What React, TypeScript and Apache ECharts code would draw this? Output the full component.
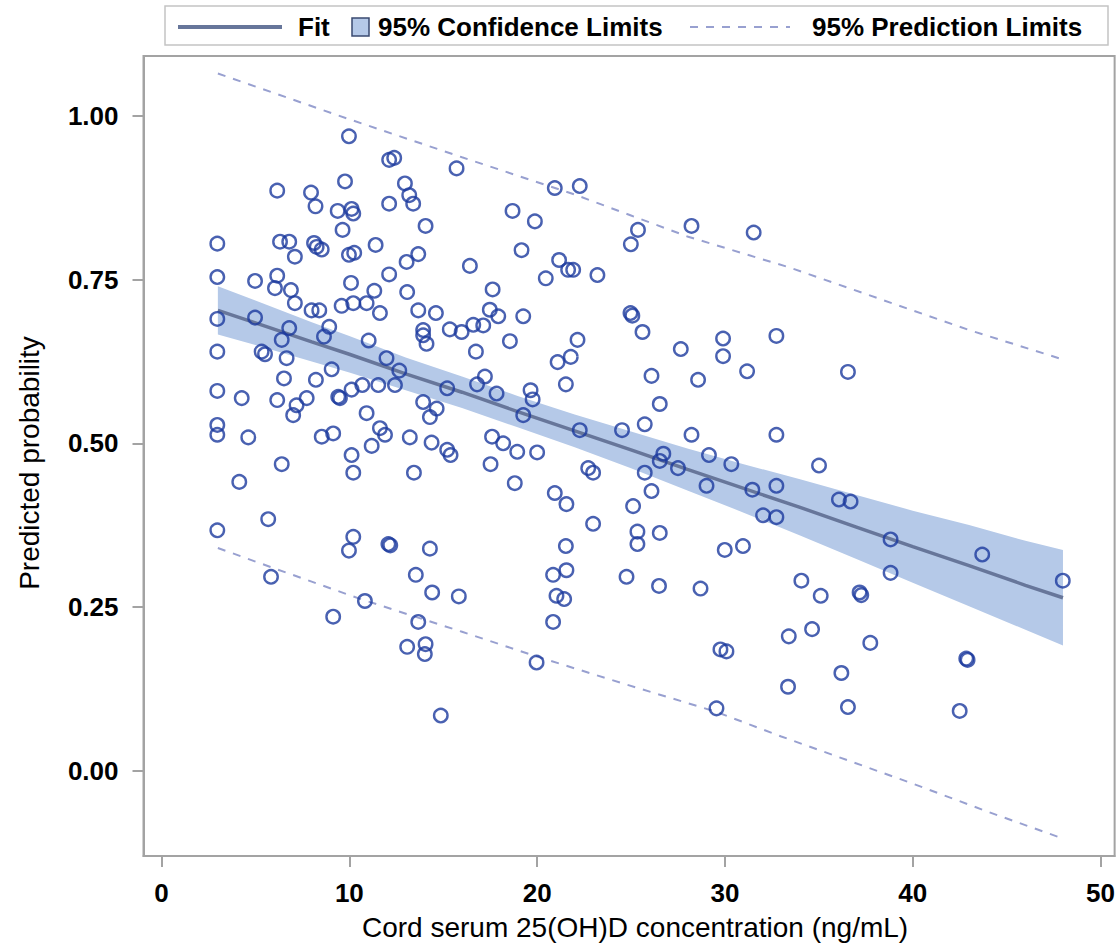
import React, { useEffect, useRef } from "react";
import * as echarts from "echarts";

const xTicks = [0, 10, 20, 30, 40, 50];
const yTicks = [0, 0.25, 0.5, 0.75, 1.0];
const xTitle = "Cord serum 25(OH)D concentration (ng/mL)";
const yTitle = "Predicted probability";
const legendNames = ["Fit", "95% Confidence Limits", "95% Prediction Limits"];

const points: [number, number][] = [
  [9.98,0.969],[12.12,0.933],[12.39,0.936],[15.71,0.920],[9.77,0.900],[6.16,0.886],[7.96,0.883],[8.20,0.862],[9.38,0.855],[10.12,0.858],[10.21,0.851],[12.12,0.866],[12.96,0.897],[13.19,0.879],[13.40,0.866],[14.06,0.832],[9.64,0.826],[2.97,0.805],[6.31,0.808],[6.80,0.808],[7.10,0.785],[8.12,0.806],[8.26,0.800],[8.53,0.796],[11.40,0.803],[9.98,0.788],[10.26,0.791],[13.67,0.789],[13.05,0.777],[16.42,0.771],[2.97,0.754],[4.98,0.748],[6.16,0.756],[6.04,0.737],[6.89,0.734],[10.09,0.745],[12.12,0.758],[11.33,0.733],[13.08,0.731],[7.10,0.714],[7.99,0.703],[8.40,0.703],[9.59,0.710],[10.21,0.714],[10.92,0.714],[11.63,0.699],[13.67,0.703],[14.61,0.699],[2.97,0.690],[4.98,0.692],[16.60,0.681],[6.80,0.676],[6.40,0.658],[8.93,0.678],[8.65,0.663],[11.03,0.657],[13.93,0.673],[13.93,0.665],[14.11,0.652],[15.35,0.674],[15.98,0.670],[16.74,0.640],[2.97,0.640],[5.33,0.640],[5.51,0.636],[6.66,0.630],[11.98,0.630],[12.66,0.611],[9.06,0.613],[15.21,0.584],[16.80,0.590],[6.52,0.599],[8.22,0.597],[2.97,0.580],[4.27,0.569],[6.16,0.566],[7.19,0.558],[7.73,0.569],[7.01,0.543],[9.41,0.571],[9.50,0.569],[10.12,0.582],[10.69,0.589],[11.54,0.589],[12.43,0.589],[13.93,0.563],[14.65,0.553],[14.29,0.540],[10.92,0.546],[2.97,0.528],[2.97,0.513],[4.62,0.509],[8.53,0.510],[9.14,0.515],[11.63,0.523],[11.90,0.513],[11.19,0.496],[13.22,0.509],[14.38,0.501],[15.21,0.490],[15.39,0.482],[10.12,0.482],[10.21,0.455],[13.44,0.455],[6.40,0.468],[4.14,0.441],[2.97,0.367],[5.68,0.384],[10.21,0.357],[9.98,0.336],[12.08,0.346],[12.18,0.344],[14.29,0.339],[5.83,0.296],[13.54,0.299],[14.41,0.272],[15.83,0.266],[10.83,0.259],[9.14,0.235],[13.67,0.227],[13.08,0.189],[14.06,0.193],[14.02,0.178],[14.87,0.084],
  [20.94,0.890],[22.27,0.893],[18.69,0.855],[19.88,0.839],[25.37,0.826],[24.99,0.804],[28.22,0.832],[31.53,0.822],[19.17,0.795],[21.17,0.780],[21.65,0.765],[21.92,0.765],[20.46,0.752],[23.21,0.757],[17.63,0.735],[17.48,0.704],[17.93,0.694],[17.13,0.680],[19.26,0.694],[18.55,0.656],[24.97,0.699],[25.07,0.695],[25.61,0.670],[22.15,0.658],[21.79,0.632],[21.09,0.624],[21.53,0.590],[27.65,0.644],[29.90,0.660],[29.90,0.633],[32.74,0.664],[26.09,0.603],[28.57,0.597],[31.18,0.610],[26.53,0.560],[25.73,0.529],[24.52,0.520],[28.22,0.513],[32.74,0.513],[17.22,0.602],[17.84,0.576],[19.65,0.581],[19.76,0.567],[19.26,0.543],[22.27,0.520],[17.60,0.510],[18.19,0.500],[18.94,0.487],[20.00,0.486],[26.72,0.484],[29.15,0.482],[17.52,0.468],[18.81,0.439],[20.94,0.424],[21.56,0.407],[22.72,0.462],[22.98,0.455],[25.73,0.455],[26.53,0.473],[27.50,0.462],[30.34,0.468],[26.09,0.427],[29.02,0.435],[31.46,0.429],[32.74,0.435],[32.03,0.390],[32.74,0.387],[25.11,0.404],[22.98,0.377],[25.34,0.365],[25.34,0.346],[26.53,0.363],[29.99,0.337],[30.96,0.343],[21.53,0.343],[20.85,0.299],[21.56,0.306],[21.03,0.267],[21.44,0.262],[20.85,0.227],[24.76,0.296],[26.49,0.282],[28.70,0.278],[19.97,0.165],[29.76,0.185],[30.08,0.182],[29.55,0.095],[33.40,0.205],[33.36,0.128],
  [36.55,0.609],[35.01,0.466],[36.07,0.414],[36.69,0.411],[38.82,0.353],[43.70,0.330],[47.99,0.290],[38.82,0.302],[34.07,0.290],[35.10,0.267],[37.17,0.272],[37.26,0.268],[34.64,0.216],[37.74,0.195],[42.85,0.171],[42.92,0.169],[36.20,0.149],[36.55,0.097],[42.50,0.091]
];

const fitX = [3, 5, 8, 10, 13, 16, 19, 22, 25, 28, 31, 34, 37, 40, 43, 46, 48];
const fitY = [0.703, 0.684, 0.655, 0.636, 0.606, 0.578, 0.548, 0.519, 0.490, 0.460, 0.431, 0.402, 0.372, 0.342, 0.313, 0.283, 0.264];
const clLower = [0.666, 0.650, 0.625, 0.608, 0.581, 0.554, 0.524, 0.494, 0.462, 0.428, 0.394, 0.359, 0.323, 0.287, 0.251, 0.215, 0.191];
const clUpper = [0.740, 0.718, 0.685, 0.664, 0.631, 0.602, 0.572, 0.544, 0.518, 0.492, 0.468, 0.445, 0.421, 0.397, 0.375, 0.351, 0.337];

const plUpperX = [3, 10, 16, 22, 25, 28, 33.5, 38.4, 43, 48];
const plUpperY = [1.065, 0.995, 0.937, 0.880, 0.848, 0.816, 0.768, 0.719, 0.673, 0.628];
const plLowerX = [3, 5.8, 10.5, 13.4, 16, 20, 24.8, 29.5, 33, 40, 44, 48];
const plLowerY = [0.340, 0.311, 0.263, 0.236, 0.212, 0.174, 0.131, 0.090, 0.052, -0.020, -0.063, -0.104];

const FONT = "'Liberation Sans', Arial, sans-serif";
const MARKER = "#1C3A9E";
const FIT = "#67769A";
const BAND = "#B5C9E8";
const DASH = "#98A0D0";
const FRAME = "#A3A3A3";

export default function App() {
  const ref = useRef<HTMLDivElement>(null);
  useEffect(() => {
    if (!ref.current) return;
    const chart = echarts.init(ref.current, null, { renderer: "svg" });
    const pair = (xs: number[], ys: number[]) => xs.map((x, i) => [x, ys[i]]);
    chart.setOption({
      animation: false,
      backgroundColor: "#ffffff",
      textStyle: { fontFamily: FONT },
      grid: {
        left: 143.5, top: 56, right: 3, bottom: 90,
        show: true, borderColor: FRAME, borderWidth: 2, backgroundColor: "transparent",
      },
      xAxis: {
        type: "value", min: -0.96, max: 50.75,
        name: xTitle, nameLocation: "middle", nameGap: 57,
        nameTextStyle: { fontSize: 28, color: "#000", fontFamily: FONT, padding: [0, 0, 0, 12] },
        axisLine: { show: true, onZero: false, lineStyle: { color: FRAME, width: 2 } },
        axisTick: { show: true, customValues: xTicks, length: 11, lineStyle: { color: FRAME, width: 2 } },
        axisLabel: { customValues: xTicks, fontSize: 26, fontWeight: "bold", color: "#000", margin: 24, fontFamily: FONT },
        splitLine: { show: false },
      },
      yAxis: {
        type: "value", min: -0.1306, max: 1.0917,
        name: yTitle, nameLocation: "middle", nameGap: 100, nameRotate: 90,
        nameTextStyle: { fontSize: 28, color: "#000", fontFamily: FONT, padding: [0, 14, 0, 0] },
        axisLine: { show: true, onZero: false, lineStyle: { color: FRAME, width: 2 } },
        axisTick: { show: true, customValues: yTicks, length: 11, lineStyle: { color: FRAME, width: 2 } },
        axisLabel: { customValues: yTicks, fontSize: 26, fontWeight: "bold", color: "#000", margin: 25, fontFamily: FONT,
          formatter: (v: number) => v.toFixed(2) },
        splitLine: { show: false },
      },
      graphic: [
        { type: "rect", shape: { x: 165, y: 6, width: 943, height: 39 }, style: { fill: "#fff", stroke: "#C4C4C4", lineWidth: 1.5 } },
        { type: "line", shape: { x1: 178, y1: 27, x2: 282, y2: 27 }, style: { stroke: FIT, lineWidth: 4 } },
        { type: "text", x: 298, y: 27, style: { text: legendNames[0], font: `bold 26px ${FONT}`, fill: "#000", verticalAlign: "middle" } },
        { type: "rect", shape: { x: 352, y: 18, width: 17, height: 18 }, style: { fill: BAND, stroke: "#3A4A70", lineWidth: 1.5 } },
        { type: "text", x: 378, y: 27, style: { text: legendNames[1], font: `bold 26px ${FONT}`, fill: "#000", verticalAlign: "middle" } },
        { type: "line", shape: { x1: 690, y1: 27, x2: 790, y2: 27 }, style: { stroke: DASH, lineWidth: 2, lineDash: [8, 8] } },
        { type: "text", x: 812, y: 27, style: { text: legendNames[2], font: `bold 26px ${FONT}`, fill: "#000", verticalAlign: "middle" } },
      ],
      series: [
        {
          type: "custom", silent: true, z: 1,
          data: [[fitX[0], clLower[0]]],
          renderItem: (_p: any, api: any) => {
            const pts: number[][] = [];
            for (let i = 0; i < fitX.length; i++) pts.push(api.coord([fitX[i], clUpper[i]]));
            for (let i = fitX.length - 1; i >= 0; i--) pts.push(api.coord([fitX[i], clLower[i]]));
            return { type: "polygon", shape: { points: pts }, style: { fill: BAND } };
          },
        },
        {
          type: "line", z: 3, data: pair(fitX, fitY), symbol: "none", showSymbol: false,
          lineStyle: { color: FIT, width: 3.5 },
        },
        {
          type: "line", z: 3, data: pair(plUpperX, plUpperY), symbol: "none", showSymbol: false,
          lineStyle: { color: DASH, width: 2, type: [8, 8] },
        },
        {
          type: "line", z: 3, data: pair(plLowerX, plLowerY), symbol: "none", showSymbol: false,
          lineStyle: { color: DASH, width: 2, type: [8, 8] },
        },
        {
          type: "scatter", z: 5, data: points, symbol: "circle", symbolSize: 13.5,
          itemStyle: { color: "rgba(0,0,0,0)", borderColor: MARKER, borderWidth: 2.4 },
        },
      ],
    });
    return () => chart.dispose();
  }, []);
  return <div ref={ref} style={{ position: "absolute", left: 0, top: 0, width: 1118, height: 946 }} />;
}
